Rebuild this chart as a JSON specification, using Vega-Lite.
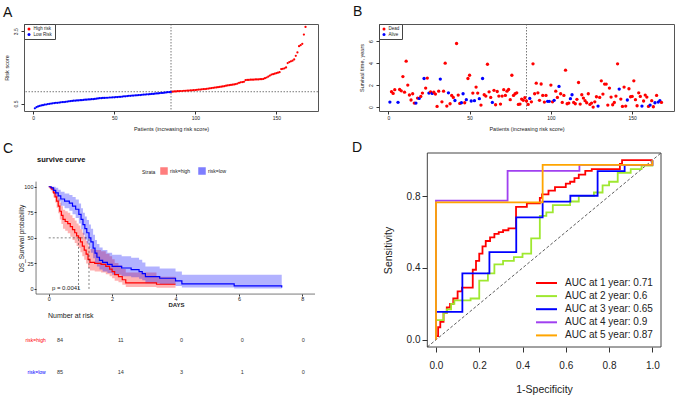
{
  "$schema": "https://vega.github.io/schema/vega-lite/v6.json",
  "background": "white",
  "padding": {"left": 2, "top": 4, "right": 0, "bottom": 0},
  "config": {
    "font": "Liberation Sans",
    "view": {"stroke": "#555", "strokeWidth": 1},
    "axis": {"grid": false, "labelColor": "#222", "titleColor": "#222", "tickColor": "#333", "domainColor": "#333", "titleFontWeight": "normal", "labelOverlap": false},
    "title": {"fontWeight": "normal", "color": "#111", "anchor": "start", "frame": "group", "baseline": "alphabetic", "fontSize": 14},
    "legend": {"labelColor": "#222", "titleColor": "#222"}
  },
  "datasets": {
    "patients": [
      {"i":1,"r":0.30,"t":0.45,"s":"Alive","g":"Low Risk"},{"i":2,"r":0.35,"t":1.40,"s":"Dead","g":"Low Risk"},{"i":3,"r":0.38,"t":1.24,"s":"Dead","g":"Low Risk"},{"i":4,"r":0.40,"t":1.58,"s":"Dead","g":"Low Risk"},{"i":5,"r":0.42,"t":7.30,"s":"Dead","g":"Low Risk"},
      {"i":6,"r":0.43,"t":0.43,"s":"Alive","g":"Low Risk"},{"i":7,"r":0.45,"t":1.60,"s":"Dead","g":"Low Risk"},{"i":8,"r":0.46,"t":1.48,"s":"Dead","g":"Low Risk"},{"i":9,"r":0.48,"t":2.78,"s":"Dead","g":"Low Risk"},{"i":10,"r":0.49,"t":1.36,"s":"Dead","g":"Low Risk"},
      {"i":11,"r":0.50,"t":4.18,"s":"Dead","g":"Low Risk"},{"i":12,"r":0.51,"t":2.00,"s":"Dead","g":"Low Risk"},{"i":13,"r":0.52,"t":1.10,"s":"Dead","g":"Low Risk"},{"i":14,"r":0.53,"t":0.64,"s":"Dead","g":"Low Risk"},{"i":15,"r":0.53,"t":1.21,"s":"Dead","g":"Low Risk"},
      {"i":16,"r":0.54,"t":0.36,"s":"Dead","g":"Low Risk"},{"i":17,"r":0.55,"t":0.36,"s":"Alive","g":"Low Risk"},{"i":18,"r":0.56,"t":0.82,"s":"Dead","g":"Low Risk"},{"i":19,"r":0.56,"t":0.79,"s":"Alive","g":"Low Risk"},{"i":20,"r":0.57,"t":0.97,"s":"Dead","g":"Low Risk"},
      {"i":21,"r":0.58,"t":1.27,"s":"Dead","g":"Low Risk"},{"i":22,"r":0.59,"t":2.60,"s":"Alive","g":"Low Risk"},{"i":23,"r":0.60,"t":1.73,"s":"Dead","g":"Low Risk"},{"i":24,"r":0.61,"t":2.64,"s":"Dead","g":"Low Risk"},{"i":25,"r":0.62,"t":1.27,"s":"Alive","g":"Low Risk"},
      {"i":26,"r":0.62,"t":1.39,"s":"Dead","g":"Low Risk"},{"i":27,"r":0.63,"t":1.24,"s":"Alive","g":"Low Risk"},{"i":28,"r":0.63,"t":1.36,"s":"Dead","g":"Low Risk"},{"i":29,"r":0.64,"t":1.18,"s":"Dead","g":"Low Risk"},{"i":30,"r":0.64,"t":0.06,"s":"Dead","g":"Low Risk"},
      {"i":31,"r":0.65,"t":1.45,"s":"Dead","g":"Low Risk"},{"i":32,"r":0.66,"t":2.55,"s":"Alive","g":"Low Risk"},{"i":33,"r":0.66,"t":0.48,"s":"Dead","g":"Low Risk"},{"i":34,"r":0.67,"t":1.45,"s":"Dead","g":"Low Risk"},{"i":35,"r":0.67,"t":4.00,"s":"Dead","g":"Low Risk"},
      {"i":36,"r":0.68,"t":0.09,"s":"Dead","g":"Low Risk"},{"i":37,"r":0.68,"t":1.30,"s":"Alive","g":"Low Risk"},{"i":38,"r":0.69,"t":0.30,"s":"Dead","g":"Low Risk"},{"i":39,"r":0.70,"t":1.06,"s":"Dead","g":"Low Risk"},{"i":40,"r":0.71,"t":0.88,"s":"Dead","g":"Low Risk"},
      {"i":41,"r":0.72,"t":0.60,"s":"Alive","g":"Low Risk"},{"i":42,"r":0.72,"t":5.79,"s":"Dead","g":"Low Risk"},{"i":43,"r":0.73,"t":1.09,"s":"Dead","g":"Low Risk"},{"i":44,"r":0.73,"t":0.33,"s":"Dead","g":"Low Risk"},{"i":45,"r":0.74,"t":0.39,"s":"Alive","g":"Low Risk"},
      {"i":46,"r":0.74,"t":1.21,"s":"Alive","g":"Low Risk"},{"i":47,"r":0.75,"t":0.39,"s":"Dead","g":"Low Risk"},{"i":48,"r":0.75,"t":0.67,"s":"Alive","g":"Low Risk"},{"i":49,"r":0.76,"t":2.60,"s":"Dead","g":"Low Risk"},{"i":50,"r":0.76,"t":2.90,"s":"Dead","g":"Low Risk"},
      {"i":51,"r":0.77,"t":0.55,"s":"Alive","g":"Low Risk"},{"i":52,"r":0.77,"t":1.27,"s":"Dead","g":"Low Risk"},{"i":53,"r":0.78,"t":0.58,"s":"Alive","g":"Low Risk"},{"i":54,"r":0.78,"t":1.82,"s":"Dead","g":"Low Risk"},{"i":55,"r":0.79,"t":1.27,"s":"Dead","g":"Low Risk"},
      {"i":56,"r":0.80,"t":0.76,"s":"Alive","g":"Low Risk"},{"i":57,"r":0.80,"t":0.18,"s":"Dead","g":"Low Risk"},{"i":58,"r":0.81,"t":2.60,"s":"Alive","g":"Low Risk"},{"i":59,"r":0.82,"t":1.12,"s":"Dead","g":"Low Risk"},{"i":60,"r":0.82,"t":1.00,"s":"Dead","g":"Low Risk"},
      {"i":61,"r":0.83,"t":3.90,"s":"Dead","g":"Low Risk"},{"i":62,"r":0.83,"t":1.39,"s":"Dead","g":"Low Risk"},{"i":63,"r":0.84,"t":0.88,"s":"Dead","g":"Low Risk"},{"i":64,"r":0.84,"t":0.42,"s":"Alive","g":"Low Risk"},{"i":65,"r":0.85,"t":1.52,"s":"Dead","g":"Low Risk"},
      {"i":66,"r":0.85,"t":0.21,"s":"Dead","g":"Low Risk"},{"i":67,"r":0.86,"t":1.42,"s":"Dead","g":"Low Risk"},{"i":68,"r":0.87,"t":1.00,"s":"Dead","g":"Low Risk"},{"i":69,"r":0.87,"t":0.27,"s":"Dead","g":"Low Risk"},{"i":70,"r":0.88,"t":1.00,"s":"Dead","g":"Low Risk"},
      {"i":71,"r":0.88,"t":1.58,"s":"Dead","g":"Low Risk"},{"i":72,"r":0.89,"t":1.06,"s":"Dead","g":"Low Risk"},{"i":73,"r":0.90,"t":1.45,"s":"Dead","g":"Low Risk"},{"i":74,"r":0.90,"t":1.60,"s":"Dead","g":"Low Risk"},{"i":75,"r":0.91,"t":0.67,"s":"Dead","g":"Low Risk"},
      {"i":76,"r":0.92,"t":2.90,"s":"Dead","g":"Low Risk"},{"i":77,"r":0.92,"t":1.06,"s":"Dead","g":"Low Risk"},{"i":78,"r":0.93,"t":1.21,"s":"Dead","g":"Low Risk"},{"i":79,"r":0.94,"t":1.30,"s":"Dead","g":"Low Risk"},{"i":80,"r":0.94,"t":0.24,"s":"Dead","g":"Low Risk"},
      {"i":81,"r":0.95,"t":0.27,"s":"Dead","g":"Low Risk"},{"i":82,"r":0.96,"t":0.73,"s":"Dead","g":"Low Risk"},{"i":83,"r":0.97,"t":0.61,"s":"Dead","g":"Low Risk"},{"i":84,"r":0.97,"t":0.85,"s":"Dead","g":"Low Risk"},{"i":85,"r":0.98,"t":0.55,"s":"Dead","g":"Low Risk"},
      {"i":86,"r":0.99,"t":0.24,"s":"Dead","g":"High risk"},{"i":87,"r":1.00,"t":0.79,"s":"Alive","g":"High risk"},{"i":88,"r":1.00,"t":0.48,"s":"Dead","g":"High risk"},{"i":89,"r":1.01,"t":3.94,"s":"Dead","g":"High risk"},{"i":90,"r":1.01,"t":1.21,"s":"Dead","g":"High risk"},
      {"i":91,"r":1.02,"t":2.18,"s":"Dead","g":"High risk"},{"i":92,"r":1.02,"t":1.30,"s":"Dead","g":"High risk"},{"i":93,"r":1.03,"t":0.61,"s":"Dead","g":"High risk"},{"i":94,"r":1.03,"t":2.10,"s":"Dead","g":"High risk"},{"i":95,"r":1.04,"t":1.06,"s":"Dead","g":"High risk"},
      {"i":96,"r":1.04,"t":0.45,"s":"Dead","g":"High risk"},{"i":97,"r":1.05,"t":1.06,"s":"Dead","g":"High risk"},{"i":98,"r":1.05,"t":0.52,"s":"Alive","g":"High risk"},{"i":99,"r":1.06,"t":0.52,"s":"Alive","g":"High risk"},{"i":100,"r":1.06,"t":2.00,"s":"Dead","g":"High risk"},
      {"i":101,"r":1.07,"t":0.48,"s":"Dead","g":"High risk"},{"i":102,"r":1.08,"t":0.61,"s":"Alive","g":"High risk"},{"i":103,"r":1.08,"t":1.45,"s":"Dead","g":"High risk"},{"i":104,"r":1.09,"t":0.88,"s":"Dead","g":"High risk"},{"i":105,"r":1.10,"t":1.88,"s":"Alive","g":"High risk"},
      {"i":106,"r":1.10,"t":1.21,"s":"Dead","g":"High risk"},{"i":107,"r":1.11,"t":0.42,"s":"Dead","g":"High risk"},{"i":108,"r":1.12,"t":1.06,"s":"Dead","g":"High risk"},{"i":109,"r":1.13,"t":3.36,"s":"Dead","g":"High risk"},{"i":110,"r":1.14,"t":0.30,"s":"Dead","g":"High risk"},
      {"i":111,"r":1.15,"t":0.36,"s":"Dead","g":"High risk"},{"i":112,"r":1.16,"t":0.76,"s":"Alive","g":"High risk"},{"i":113,"r":1.17,"t":1.12,"s":"Alive","g":"High risk"},{"i":114,"r":1.18,"t":0.42,"s":"Dead","g":"High risk"},{"i":115,"r":1.19,"t":0.30,"s":"Dead","g":"High risk"},
      {"i":116,"r":1.20,"t":0.70,"s":"Dead","g":"High risk"},{"i":117,"r":1.21,"t":2.24,"s":"Dead","g":"High risk"},{"i":118,"r":1.22,"t":0.27,"s":"Dead","g":"High risk"},{"i":119,"r":1.24,"t":1.12,"s":"Dead","g":"High risk"},{"i":120,"r":1.25,"t":0.82,"s":"Dead","g":"High risk"},
      {"i":121,"r":1.26,"t":0.58,"s":"Dead","g":"High risk"},{"i":122,"r":1.27,"t":0.39,"s":"Dead","g":"High risk"},{"i":123,"r":1.28,"t":1.21,"s":"Dead","g":"High risk"},{"i":124,"r":1.29,"t":0.24,"s":"Dead","g":"High risk"},{"i":125,"r":1.31,"t":0.36,"s":"Dead","g":"High risk"},
      {"i":126,"r":1.33,"t":0.00,"s":"Dead","g":"High risk"},{"i":127,"r":1.36,"t":0.48,"s":"Dead","g":"High risk"},{"i":128,"r":1.38,"t":0.94,"s":"Dead","g":"High risk"},{"i":129,"r":1.39,"t":0.09,"s":"Alive","g":"High risk"},{"i":130,"r":1.40,"t":0.88,"s":"Dead","g":"High risk"},
      {"i":131,"r":1.47,"t":2.39,"s":"Dead","g":"High risk"},{"i":132,"r":1.48,"t":1.18,"s":"Dead","g":"High risk"},{"i":133,"r":1.48,"t":2.09,"s":"Dead","g":"High risk"},{"i":134,"r":1.49,"t":2.09,"s":"Dead","g":"High risk"},{"i":135,"r":1.49,"t":0.18,"s":"Dead","g":"High risk"},
      {"i":136,"r":1.49,"t":1.73,"s":"Dead","g":"High risk"},{"i":137,"r":1.50,"t":0.91,"s":"Dead","g":"High risk"},{"i":138,"r":1.50,"t":0.21,"s":"Dead","g":"High risk"},{"i":139,"r":1.50,"t":0.42,"s":"Dead","g":"High risk"},{"i":140,"r":1.51,"t":1.00,"s":"Dead","g":"High risk"},
      {"i":141,"r":1.51,"t":3.94,"s":"Dead","g":"High risk"},{"i":142,"r":1.52,"t":1.64,"s":"Alive","g":"High risk"},{"i":143,"r":1.55,"t":0.73,"s":"Dead","g":"High risk"},{"i":144,"r":1.58,"t":0.06,"s":"Dead","g":"High risk"},{"i":145,"r":1.62,"t":1.82,"s":"Dead","g":"High risk"},
      {"i":146,"r":1.66,"t":0.09,"s":"Dead","g":"High risk"},{"i":147,"r":1.70,"t":0.64,"s":"Alive","g":"High risk"},{"i":148,"r":1.72,"t":1.67,"s":"Dead","g":"High risk"},{"i":149,"r":1.74,"t":0.94,"s":"Dead","g":"High risk"},{"i":150,"r":1.76,"t":0.97,"s":"Dead","g":"High risk"},
      {"i":151,"r":1.78,"t":2.39,"s":"Dead","g":"High risk"},{"i":152,"r":1.80,"t":0.67,"s":"Dead","g":"High risk"},{"i":153,"r":1.93,"t":0.12,"s":"Dead","g":"High risk"},{"i":154,"r":1.94,"t":1.30,"s":"Dead","g":"High risk"},{"i":155,"r":1.96,"t":0.97,"s":"Dead","g":"High risk"},
      {"i":156,"r":2.00,"t":0.09,"s":"Alive","g":"High risk"},{"i":157,"r":2.18,"t":0.55,"s":"Dead","g":"High risk"},{"i":158,"r":2.22,"t":1.09,"s":"Dead","g":"High risk"},{"i":159,"r":2.25,"t":0.91,"s":"Dead","g":"High risk"},{"i":160,"r":2.28,"t":0.06,"s":"Dead","g":"High risk"},
      {"i":161,"r":2.33,"t":0.18,"s":"Alive","g":"High risk"},{"i":162,"r":2.48,"t":0.58,"s":"Dead","g":"High risk"},{"i":163,"r":2.62,"t":0.03,"s":"Dead","g":"High risk"},{"i":164,"r":2.88,"t":0.39,"s":"Alive","g":"High risk"},{"i":165,"r":2.92,"t":1.06,"s":"Dead","g":"High risk"},
      {"i":166,"r":2.98,"t":0.45,"s":"Alive","g":"High risk"},{"i":167,"r":3.36,"t":0.58,"s":"Alive","g":"High risk"},{"i":168,"r":3.68,"t":0.42,"s":"Dead","g":"High risk"}
    ],
    "km": [
      {"strata":"risk=high","t":0,"s":100,"lo":100,"hi":100},{"strata":"risk=high","t":0.05,"s":98.8,"lo":96.5,"hi":100},{"strata":"risk=high","t":0.1,"s":97.6,"lo":94,"hi":100},
      {"strata":"risk=high","t":0.15,"s":94,"lo":89.5,"hi":98.5},{"strata":"risk=high","t":0.2,"s":90,"lo":84.5,"hi":96},{"strata":"risk=high","t":0.25,"s":86,"lo":79.5,"hi":92.5},
      {"strata":"risk=high","t":0.3,"s":81,"lo":74,"hi":88.5},{"strata":"risk=high","t":0.35,"s":76,"lo":68,"hi":84.5},{"strata":"risk=high","t":0.4,"s":72,"lo":63.5,"hi":81},
      {"strata":"risk=high","t":0.45,"s":68,"lo":59,"hi":77.5},{"strata":"risk=high","t":0.52,"s":66,"lo":57,"hi":76},{"strata":"risk=high","t":0.6,"s":64,"lo":54.5,"hi":74.5},
      {"strata":"risk=high","t":0.68,"s":61,"lo":51,"hi":72},{"strata":"risk=high","t":0.75,"s":58,"lo":48,"hi":69.5},{"strata":"risk=high","t":0.82,"s":55,"lo":45,"hi":67},
      {"strata":"risk=high","t":0.88,"s":52,"lo":42,"hi":64},{"strata":"risk=high","t":0.94,"s":50,"lo":40,"hi":62},{"strata":"risk=high","t":1.0,"s":46,"lo":36,"hi":58.5},
      {"strata":"risk=high","t":1.06,"s":42,"lo":32,"hi":55},{"strata":"risk=high","t":1.12,"s":38,"lo":28.5,"hi":51},{"strata":"risk=high","t":1.18,"s":34,"lo":25,"hi":47},
      {"strata":"risk=high","t":1.24,"s":29,"lo":20.5,"hi":42.5},{"strata":"risk=high","t":1.3,"s":26,"lo":18,"hi":39},{"strata":"risk=high","t":1.45,"s":25,"lo":17,"hi":38},
      {"strata":"risk=high","t":1.65,"s":24,"lo":16,"hi":37},{"strata":"risk=high","t":1.8,"s":22,"lo":14.5,"hi":34.5},{"strata":"risk=high","t":1.92,"s":19.5,"lo":12.5,"hi":32},
      {"strata":"risk=high","t":2.0,"s":17,"lo":10.5,"hi":29},{"strata":"risk=high","t":2.08,"s":14,"lo":8,"hi":25.5},{"strata":"risk=high","t":2.2,"s":12,"lo":6.5,"hi":23},
      {"strata":"risk=high","t":2.32,"s":9,"lo":4,"hi":19.5},{"strata":"risk=high","t":2.43,"s":6,"lo":2,"hi":16},{"strata":"risk=high","t":3.4,"s":4.6,"lo":1.2,"hi":12},
      {"strata":"risk=high","t":4.0,"s":4.6,"lo":1.2,"hi":12},
      {"strata":"risk=low","t":0,"s":100,"lo":100,"hi":100},{"strata":"risk=low","t":0.08,"s":98.8,"lo":96.5,"hi":100},{"strata":"risk=low","t":0.15,"s":96.5,"lo":93,"hi":100},
      {"strata":"risk=low","t":0.22,"s":94,"lo":89.5,"hi":99},{"strata":"risk=low","t":0.3,"s":91,"lo":85.5,"hi":97},{"strata":"risk=low","t":0.38,"s":88,"lo":81.5,"hi":95},
      {"strata":"risk=low","t":0.5,"s":86,"lo":79,"hi":93.5},{"strata":"risk=low","t":0.65,"s":84,"lo":76.5,"hi":92},{"strata":"risk=low","t":0.75,"s":81,"lo":73,"hi":90},
      {"strata":"risk=low","t":0.85,"s":78,"lo":69.5,"hi":87.5},{"strata":"risk=low","t":0.95,"s":73,"lo":64,"hi":83.5},{"strata":"risk=low","t":1.02,"s":68,"lo":58.5,"hi":79},
      {"strata":"risk=low","t":1.08,"s":63,"lo":53,"hi":74.5},{"strata":"risk=low","t":1.14,"s":59,"lo":48.5,"hi":71},{"strata":"risk=low","t":1.2,"s":55,"lo":44.5,"hi":67.5},
      {"strata":"risk=low","t":1.27,"s":50,"lo":39.5,"hi":63},{"strata":"risk=low","t":1.33,"s":46,"lo":35.5,"hi":59},{"strata":"risk=low","t":1.4,"s":40,"lo":30,"hi":53},
      {"strata":"risk=low","t":1.46,"s":35,"lo":25.5,"hi":48},{"strata":"risk=low","t":1.52,"s":31,"lo":22,"hi":44},{"strata":"risk=low","t":1.6,"s":28,"lo":19,"hi":40.5},
      {"strata":"risk=low","t":1.7,"s":26,"lo":17,"hi":38},{"strata":"risk=low","t":1.85,"s":24,"lo":15.5,"hi":35.5},{"strata":"risk=low","t":2.0,"s":22,"lo":14,"hi":33.5},
      {"strata":"risk=low","t":2.3,"s":20.5,"lo":12.5,"hi":32},{"strata":"risk=low","t":2.6,"s":19,"lo":11.5,"hi":30.5},{"strata":"risk=low","t":2.85,"s":17,"lo":10,"hi":28.5},
      {"strata":"risk=low","t":2.95,"s":15,"lo":8.5,"hi":26},{"strata":"risk=low","t":3.05,"s":12,"lo":5.5,"hi":22},{"strata":"risk=low","t":3.5,"s":10.5,"lo":4.5,"hi":20},
      {"strata":"risk=low","t":4.0,"s":8,"lo":3,"hi":17},{"strata":"risk=low","t":4.2,"s":5,"lo":1.5,"hi":14},{"strata":"risk=low","t":5.85,"s":3,"lo":0.5,"hi":14},
      {"strata":"risk=low","t":7.35,"s":1.5,"lo":0,"hi":14}
    ],
    "risk": [
      {"strata":"risk=high","row":1,"t":0,"n":84},{"strata":"risk=high","row":1,"t":2,"n":11},{"strata":"risk=high","row":1,"t":4,"n":0},{"strata":"risk=high","row":1,"t":6,"n":0},{"strata":"risk=high","row":1,"t":8,"n":0},
      {"strata":"risk=low","row":2,"t":0,"n":85},{"strata":"risk=low","row":2,"t":2,"n":14},{"strata":"risk=low","row":2,"t":4,"n":3},{"strata":"risk=low","row":2,"t":6,"n":1},{"strata":"risk=low","row":2,"t":8,"n":0}
    ],
    "roc": [
      {"auc":"AUC at 1 year: 0.71","k":0,"x":0,"y":0},{"auc":"AUC at 1 year: 0.71","k":1,"x":0,"y":0.02},{"auc":"AUC at 1 year: 0.71","k":2,"x":0.01,"y":0.02},{"auc":"AUC at 1 year: 0.71","k":3,"x":0.01,"y":0.07},
      {"auc":"AUC at 1 year: 0.71","k":4,"x":0.02,"y":0.07},{"auc":"AUC at 1 year: 0.71","k":5,"x":0.02,"y":0.1},{"auc":"AUC at 1 year: 0.71","k":6,"x":0.035,"y":0.1},{"auc":"AUC at 1 year: 0.71","k":7,"x":0.035,"y":0.15},
      {"auc":"AUC at 1 year: 0.71","k":8,"x":0.05,"y":0.15},{"auc":"AUC at 1 year: 0.71","k":9,"x":0.05,"y":0.18},{"auc":"AUC at 1 year: 0.71","k":10,"x":0.065,"y":0.18},{"auc":"AUC at 1 year: 0.71","k":11,"x":0.065,"y":0.2},
      {"auc":"AUC at 1 year: 0.71","k":12,"x":0.08,"y":0.2},{"auc":"AUC at 1 year: 0.71","k":13,"x":0.08,"y":0.23},{"auc":"AUC at 1 year: 0.71","k":14,"x":0.1,"y":0.23},{"auc":"AUC at 1 year: 0.71","k":15,"x":0.1,"y":0.27},
      {"auc":"AUC at 1 year: 0.71","k":16,"x":0.12,"y":0.27},{"auc":"AUC at 1 year: 0.71","k":17,"x":0.12,"y":0.29},{"auc":"AUC at 1 year: 0.71","k":18,"x":0.17,"y":0.29},{"auc":"AUC at 1 year: 0.71","k":19,"x":0.17,"y":0.39},
      {"auc":"AUC at 1 year: 0.71","k":20,"x":0.185,"y":0.39},{"auc":"AUC at 1 year: 0.71","k":21,"x":0.185,"y":0.44},{"auc":"AUC at 1 year: 0.71","k":22,"x":0.2,"y":0.44},{"auc":"AUC at 1 year: 0.71","k":23,"x":0.2,"y":0.48},
      {"auc":"AUC at 1 year: 0.71","k":24,"x":0.215,"y":0.48},{"auc":"AUC at 1 year: 0.71","k":25,"x":0.215,"y":0.52},{"auc":"AUC at 1 year: 0.71","k":26,"x":0.23,"y":0.52},{"auc":"AUC at 1 year: 0.71","k":27,"x":0.23,"y":0.55},
      {"auc":"AUC at 1 year: 0.71","k":28,"x":0.25,"y":0.55},{"auc":"AUC at 1 year: 0.71","k":29,"x":0.25,"y":0.57},{"auc":"AUC at 1 year: 0.71","k":30,"x":0.27,"y":0.57},{"auc":"AUC at 1 year: 0.71","k":31,"x":0.27,"y":0.59},
      {"auc":"AUC at 1 year: 0.71","k":32,"x":0.29,"y":0.59},{"auc":"AUC at 1 year: 0.71","k":33,"x":0.29,"y":0.6},{"auc":"AUC at 1 year: 0.71","k":34,"x":0.31,"y":0.6},{"auc":"AUC at 1 year: 0.71","k":35,"x":0.31,"y":0.61},
      {"auc":"AUC at 1 year: 0.71","k":36,"x":0.335,"y":0.61},{"auc":"AUC at 1 year: 0.71","k":37,"x":0.335,"y":0.62},{"auc":"AUC at 1 year: 0.71","k":38,"x":0.37,"y":0.62},{"auc":"AUC at 1 year: 0.71","k":39,"x":0.37,"y":0.74},
      {"auc":"AUC at 1 year: 0.71","k":40,"x":0.42,"y":0.74},{"auc":"AUC at 1 year: 0.71","k":41,"x":0.42,"y":0.76},{"auc":"AUC at 1 year: 0.71","k":42,"x":0.48,"y":0.76},{"auc":"AUC at 1 year: 0.71","k":43,"x":0.48,"y":0.79},
      {"auc":"AUC at 1 year: 0.71","k":44,"x":0.49,"y":0.79},{"auc":"AUC at 1 year: 0.71","k":45,"x":0.49,"y":0.81},{"auc":"AUC at 1 year: 0.71","k":46,"x":0.52,"y":0.81},{"auc":"AUC at 1 year: 0.71","k":47,"x":0.52,"y":0.83},
      {"auc":"AUC at 1 year: 0.71","k":48,"x":0.55,"y":0.83},{"auc":"AUC at 1 year: 0.71","k":49,"x":0.55,"y":0.85},{"auc":"AUC at 1 year: 0.71","k":50,"x":0.6,"y":0.85},{"auc":"AUC at 1 year: 0.71","k":51,"x":0.6,"y":0.87},
      {"auc":"AUC at 1 year: 0.71","k":52,"x":0.62,"y":0.87},{"auc":"AUC at 1 year: 0.71","k":53,"x":0.62,"y":0.88},{"auc":"AUC at 1 year: 0.71","k":54,"x":0.64,"y":0.88},{"auc":"AUC at 1 year: 0.71","k":55,"x":0.64,"y":0.9},
      {"auc":"AUC at 1 year: 0.71","k":56,"x":0.66,"y":0.9},{"auc":"AUC at 1 year: 0.71","k":57,"x":0.66,"y":0.92},{"auc":"AUC at 1 year: 0.71","k":58,"x":0.69,"y":0.92},{"auc":"AUC at 1 year: 0.71","k":59,"x":0.69,"y":0.94},
      {"auc":"AUC at 1 year: 0.71","k":60,"x":0.72,"y":0.94},{"auc":"AUC at 1 year: 0.71","k":61,"x":0.72,"y":0.95},{"auc":"AUC at 1 year: 0.71","k":62,"x":0.85,"y":0.95},{"auc":"AUC at 1 year: 0.71","k":63,"x":0.85,"y":0.98},
      {"auc":"AUC at 1 year: 0.71","k":64,"x":0.86,"y":0.98},{"auc":"AUC at 1 year: 0.71","k":65,"x":0.86,"y":1.0},{"auc":"AUC at 1 year: 0.71","k":66,"x":1.0,"y":1.0},
      {"auc":"AUC at 2 year: 0.6","k":0,"x":0,"y":0},{"auc":"AUC at 2 year: 0.6","k":1,"x":0,"y":0.11},{"auc":"AUC at 2 year: 0.6","k":2,"x":0.035,"y":0.11},{"auc":"AUC at 2 year: 0.6","k":3,"x":0.035,"y":0.15},
      {"auc":"AUC at 2 year: 0.6","k":4,"x":0.05,"y":0.15},{"auc":"AUC at 2 year: 0.6","k":5,"x":0.05,"y":0.17},{"auc":"AUC at 2 year: 0.6","k":6,"x":0.07,"y":0.17},{"auc":"AUC at 2 year: 0.6","k":7,"x":0.07,"y":0.2},
      {"auc":"AUC at 2 year: 0.6","k":8,"x":0.085,"y":0.2},{"auc":"AUC at 2 year: 0.6","k":9,"x":0.085,"y":0.22},{"auc":"AUC at 2 year: 0.6","k":10,"x":0.16,"y":0.22},{"auc":"AUC at 2 year: 0.6","k":11,"x":0.16,"y":0.23},
      {"auc":"AUC at 2 year: 0.6","k":12,"x":0.2,"y":0.23},{"auc":"AUC at 2 year: 0.6","k":13,"x":0.2,"y":0.33},{"auc":"AUC at 2 year: 0.6","k":14,"x":0.24,"y":0.33},{"auc":"AUC at 2 year: 0.6","k":15,"x":0.24,"y":0.37},
      {"auc":"AUC at 2 year: 0.6","k":16,"x":0.27,"y":0.37},{"auc":"AUC at 2 year: 0.6","k":17,"x":0.27,"y":0.42},{"auc":"AUC at 2 year: 0.6","k":18,"x":0.31,"y":0.42},{"auc":"AUC at 2 year: 0.6","k":19,"x":0.31,"y":0.44},
      {"auc":"AUC at 2 year: 0.6","k":20,"x":0.36,"y":0.44},{"auc":"AUC at 2 year: 0.6","k":21,"x":0.36,"y":0.46},{"auc":"AUC at 2 year: 0.6","k":22,"x":0.4,"y":0.46},{"auc":"AUC at 2 year: 0.6","k":23,"x":0.4,"y":0.48},
      {"auc":"AUC at 2 year: 0.6","k":24,"x":0.44,"y":0.48},{"auc":"AUC at 2 year: 0.6","k":25,"x":0.44,"y":0.565},{"auc":"AUC at 2 year: 0.6","k":26,"x":0.48,"y":0.565},{"auc":"AUC at 2 year: 0.6","k":27,"x":0.48,"y":0.69},
      {"auc":"AUC at 2 year: 0.6","k":28,"x":0.51,"y":0.69},{"auc":"AUC at 2 year: 0.6","k":29,"x":0.51,"y":0.71},{"auc":"AUC at 2 year: 0.6","k":30,"x":0.54,"y":0.71},{"auc":"AUC at 2 year: 0.6","k":31,"x":0.54,"y":0.75},
      {"auc":"AUC at 2 year: 0.6","k":32,"x":0.62,"y":0.75},{"auc":"AUC at 2 year: 0.6","k":33,"x":0.62,"y":0.77},{"auc":"AUC at 2 year: 0.6","k":34,"x":0.66,"y":0.77},{"auc":"AUC at 2 year: 0.6","k":35,"x":0.66,"y":0.8},
      {"auc":"AUC at 2 year: 0.6","k":36,"x":0.73,"y":0.8},{"auc":"AUC at 2 year: 0.6","k":37,"x":0.73,"y":0.82},{"auc":"AUC at 2 year: 0.6","k":38,"x":0.77,"y":0.82},{"auc":"AUC at 2 year: 0.6","k":39,"x":0.77,"y":0.86},
      {"auc":"AUC at 2 year: 0.6","k":40,"x":0.8,"y":0.86},{"auc":"AUC at 2 year: 0.6","k":41,"x":0.8,"y":0.88},{"auc":"AUC at 2 year: 0.6","k":42,"x":0.84,"y":0.88},{"auc":"AUC at 2 year: 0.6","k":43,"x":0.84,"y":0.93},
      {"auc":"AUC at 2 year: 0.6","k":44,"x":0.9,"y":0.93},{"auc":"AUC at 2 year: 0.6","k":45,"x":0.9,"y":0.95},{"auc":"AUC at 2 year: 0.6","k":46,"x":0.95,"y":0.95},{"auc":"AUC at 2 year: 0.6","k":47,"x":0.95,"y":0.97},
      {"auc":"AUC at 2 year: 0.6","k":48,"x":1.0,"y":0.97},{"auc":"AUC at 2 year: 0.6","k":49,"x":1.0,"y":1.0},
      {"auc":"AUC at 3 year: 0.65","k":0,"x":0,"y":0},{"auc":"AUC at 3 year: 0.65","k":1,"x":0,"y":0.155},{"auc":"AUC at 3 year: 0.65","k":2,"x":0.122,"y":0.155},{"auc":"AUC at 3 year: 0.65","k":3,"x":0.122,"y":0.37},
      {"auc":"AUC at 3 year: 0.65","k":4,"x":0.247,"y":0.37},{"auc":"AUC at 3 year: 0.65","k":5,"x":0.247,"y":0.488},{"auc":"AUC at 3 year: 0.65","k":6,"x":0.371,"y":0.488},{"auc":"AUC at 3 year: 0.65","k":7,"x":0.371,"y":0.682},
      {"auc":"AUC at 3 year: 0.65","k":8,"x":0.493,"y":0.682},{"auc":"AUC at 3 year: 0.65","k":9,"x":0.493,"y":0.769},{"auc":"AUC at 3 year: 0.65","k":10,"x":0.621,"y":0.769},{"auc":"AUC at 3 year: 0.65","k":11,"x":0.621,"y":0.802},
      {"auc":"AUC at 3 year: 0.65","k":12,"x":0.747,"y":0.802},{"auc":"AUC at 3 year: 0.65","k":13,"x":0.747,"y":0.939},{"auc":"AUC at 3 year: 0.65","k":14,"x":0.872,"y":0.939},{"auc":"AUC at 3 year: 0.65","k":15,"x":0.872,"y":0.974},
      {"auc":"AUC at 3 year: 0.65","k":16,"x":1.0,"y":0.974},{"auc":"AUC at 3 year: 0.65","k":17,"x":1.0,"y":1.0},
      {"auc":"AUC at 4 year: 0.9","k":0,"x":0,"y":0},{"auc":"AUC at 4 year: 0.9","k":1,"x":0,"y":0.775},{"auc":"AUC at 4 year: 0.9","k":2,"x":0.331,"y":0.775},{"auc":"AUC at 4 year: 0.9","k":3,"x":0.331,"y":0.941},
      {"auc":"AUC at 4 year: 0.9","k":4,"x":0.663,"y":0.941},{"auc":"AUC at 4 year: 0.9","k":5,"x":0.663,"y":0.974},{"auc":"AUC at 4 year: 0.9","k":6,"x":1.0,"y":0.974},{"auc":"AUC at 4 year: 0.9","k":7,"x":1.0,"y":1.0},
      {"auc":"AUC at 5 year: 0.87","k":0,"x":0,"y":0},{"auc":"AUC at 5 year: 0.87","k":1,"x":0,"y":0.765},{"auc":"AUC at 5 year: 0.87","k":2,"x":0.493,"y":0.765},{"auc":"AUC at 5 year: 0.87","k":3,"x":0.493,"y":0.974},
      {"auc":"AUC at 5 year: 0.87","k":4,"x":1.0,"y":0.974},{"auc":"AUC at 5 year: 0.87","k":5,"x":1.0,"y":1.0}
    ]
  },
  "concat": [
    {
      "width": 294,
      "height": 87,
      "title": {"text": "A", "dx": -21, "offset": 4},
      "layer": [
        {
          "data": {"values": [{}]},
          "mark": {"type": "rule", "strokeDash": [1.5, 1.5], "color": "#555", "strokeWidth": 0.8},
          "encoding": {"y": {"datum": 0.99, "type": "quantitative"}}
        },
        {
          "data": {"values": [{}]},
          "mark": {"type": "rule", "strokeDash": [1.5, 1.5], "color": "#555", "strokeWidth": 0.8},
          "encoding": {"x": {"datum": 85, "type": "quantitative"}}
        },
        {
          "data": {"name": "patients"},
          "mark": {"type": "circle", "size": 5, "opacity": 1},
          "encoding": {
            "x": {"field": "i", "type": "quantitative", "scale": {"domain": [-5.7, 175.7], "nice": false, "zero": false},
              "axis": {"values": [0, 50, 100, 150], "domain": false, "tickSize": 3, "labelFontSize": 5, "labelPadding": 1.5, "title": "Patients (increasing risk score)", "titleFontSize": 5.5, "titlePadding": 6}},
            "y": {"field": "r", "type": "quantitative", "scale": {"domain": [0.19, 3.8], "nice": false, "zero": false},
              "axis": {"values": [0.5, 1, 1.5, 2, 2.5, 3, 3.5], "format": ".1f", "domain": false, "tickSize": 3, "labelFontSize": 5, "labelAngle": -90, "labelAlign": "center", "labelBaseline": "bottom", "labelPadding": 3, "labelOverlap": false, "labelBound": false, "labelFlush": false, "title": "Risk score", "titleFontSize": 5.5, "titlePadding": 4}},
            "color": {"field": "g", "type": "nominal", "scale": {"domain": ["High risk", "Low Risk"], "range": ["#FF0000", "#0000FF"]},
              "legend": {"orient": "top-left", "offset": 0, "title": null, "labelFontSize": 4.5, "symbolSize": 9, "symbolType": "circle", "strokeColor": "#444", "fillColor": "white", "padding": 2.5, "rowPadding": 0.5, "labelOffset": 2}}
          }
        }
      ]
    },
    {
      "width": 295,
      "height": 87,
      "title": {"text": "B", "dx": -26, "offset": 5},
      "layer": [
        {
          "data": {"values": [{}]},
          "mark": {"type": "rule", "strokeDash": [1.5, 1.5], "color": "#555", "strokeWidth": 0.8},
          "encoding": {"x": {"datum": 85, "type": "quantitative"}}
        },
        {
          "data": {"name": "patients"},
          "mark": {"type": "circle", "size": 11, "opacity": 1},
          "encoding": {
            "x": {"field": "i", "type": "quantitative", "scale": {"domain": [-5.7, 175.7], "nice": false, "zero": false},
              "axis": {"values": [0, 50, 100, 150], "domain": false, "tickSize": 3, "labelFontSize": 5, "labelPadding": 1.5, "title": "Patients (increasing risk score)", "titleFontSize": 5.5, "titlePadding": 6}},
            "y": {"field": "t", "type": "quantitative", "scale": {"domain": [-0.36, 7.57], "nice": false, "zero": false},
              "axis": {"values": [0, 2, 4, 6], "domain": false, "tickSize": 3, "labelFontSize": 5, "labelAngle": -90, "labelAlign": "center", "labelBaseline": "bottom", "labelPadding": 3, "labelOverlap": false, "labelBound": false, "labelFlush": false, "title": "Survival time, years", "titleFontSize": 5.5, "titlePadding": 4}},
            "color": {"field": "s", "type": "nominal", "scale": {"domain": ["Dead", "Alive"], "range": ["#FF0000", "#0000FF"]},
              "legend": {"orient": "top-left", "offset": 0, "title": null, "labelFontSize": 4.5, "symbolSize": 9, "symbolType": "circle", "strokeColor": "#444", "fillColor": "white", "padding": 2.5, "rowPadding": 0.5, "labelOffset": 2}}
          }
        }
      ]
    },
    {
      "width": 294,
      "height": 234,
      "view": {"stroke": null},
      "title": {"text": "C", "dx": -21, "offset": -3},
      "layer": [
        {
          "layer": [
            {
              "data": {"name": "km"},
              "mark": {"type": "area", "interpolate": "step-after", "opacity": 0.3},
              "encoding": {
                "x": {"field": "t", "type": "quantitative", "scale": {"domain": [-0.78, 8.494], "nice": false, "zero": false},
                  "axis": {"values": [0, 2, 4, 6, 8], "domain": false, "offset": -93, "tickSize": 2, "labelFontSize": 5.5, "labelPadding": 0.5, "title": "DAYS", "titleFontWeight": "bold", "titleFontSize": 6, "titleX": 152, "titleY": 7, "titleBaseline": "top"}},
                "y": {"field": "lo", "type": "quantitative", "stack": null, "scale": {"domain": [-95.9, 133], "nice": false, "zero": false},
                  "axis": {"values": [0, 25, 50, 75, 100], "domain": false, "offset": -12, "tickSize": 2, "labelFontSize": 5.5, "labelPadding": 1, "title": "OS_Survival probability", "titleFontSize": 6.5, "titleX": -14.5, "titleY": 85, "titleBaseline": "middle"}},
                "y2": {"field": "hi"},
                "color": {"field": "strata", "type": "nominal", "scale": {"domain": ["risk=high", "risk=low"], "range": ["#FF0000", "#0000FF"]},
                  "legend": {"orient": "none", "legendX": 118, "legendY": 14, "direction": "horizontal", "title": "Strata", "titleOrient": "left", "titleFontSize": 5, "titleFontWeight": "normal", "labelFontSize": 5, "symbolType": "square", "symbolSize": 36, "symbolOpacity": 0.5, "columnPadding": 5, "labelOffset": 2, "titlePadding": 4}}
              }
            },
            {
              "data": {"name": "km"},
              "mark": {"type": "line", "interpolate": "step-after", "strokeWidth": 1.2},
              "encoding": {
                "x": {"field": "t", "type": "quantitative"},
                "y": {"field": "s", "type": "quantitative"},
                "color": {"field": "strata", "type": "nominal"}
              }
            },
            {
              "data": {"values": [{"x": 0, "x2": 1.27, "y": 50, "y2": 50}, {"x": 0.94, "x2": 0.94, "y": 0, "y2": 50}, {"x": 1.27, "x2": 1.27, "y": 0, "y2": 50}]},
              "mark": {"type": "rule", "strokeDash": [2, 2], "color": "#333", "strokeWidth": 0.6},
              "encoding": {"x": {"field": "x", "type": "quantitative"}, "x2": {"field": "x2"}, "y": {"field": "y", "type": "quantitative"}, "y2": {"field": "y2"}}
            },
            {
              "data": {"values": [{"x": -0.4, "x2": 8.4, "y": -5, "y2": -5}, {"x": -0.4, "x2": -0.4, "y": -5, "y2": 105}]},
              "mark": {"type": "rule", "color": "#222", "strokeWidth": 0.6},
              "encoding": {"x": {"field": "x", "type": "quantitative"}, "x2": {"field": "x2"}, "y": {"field": "y", "type": "quantitative"}, "y2": {"field": "y2"}}
            },
            {
              "data": {"values": [{"label": "p = 0.0041", "x": 0.55, "y": 1}]},
              "mark": {"type": "text", "fontSize": 6, "color": "#222"},
              "encoding": {"x": {"field": "x", "type": "quantitative"}, "y": {"field": "y", "type": "quantitative"}, "text": {"field": "label"}}
            },
            {
              "data": {"values": [{"label": "survive curve", "x": -0.37, "y": 124.5}]},
              "mark": {"type": "text", "fontSize": 7.5, "fontWeight": "bold", "align": "left", "baseline": "alphabetic", "color": "#111"},
              "encoding": {"x": {"field": "x", "type": "quantitative"}, "y": {"field": "y", "type": "quantitative"}, "text": {"field": "label"}}
            }
          ]
        },
        {
          "layer": [
            {
              "data": {"name": "risk"},
              "mark": {"type": "text", "fontSize": 5.5, "color": "#333"},
              "encoding": {
                "x": {"field": "t", "type": "quantitative", "scale": {"domain": [-1.184, 8.487], "nice": false, "zero": false}, "axis": null},
                "y": {"field": "row", "type": "quantitative", "scale": {"domain": [-4.844, 2.469], "reverse": true, "nice": false, "zero": false}, "axis": null},
                "text": {"field": "n"}
              }
            },
            {
              "data": {"name": "risk"},
              "transform": [{"filter": "datum.t == 0"}],
              "mark": {"type": "text", "fontSize": 5, "align": "right"},
              "encoding": {
                "x": {"datum": -0.47, "type": "quantitative"},
                "y": {"field": "row", "type": "quantitative"},
                "text": {"field": "strata"},
                "color": {"condition": {"test": "datum.strata == 'risk=high'", "value": "#FF0000"}, "value": "#0000FF"}
              }
            },
            {
              "data": {"values": [{"label": "Number at risk", "x": -0.395, "y": 0.31}]},
              "mark": {"type": "text", "fontSize": 7, "align": "left", "baseline": "alphabetic", "color": "#222"},
              "encoding": {"x": {"field": "x", "type": "quantitative"}, "y": {"field": "y", "type": "quantitative"}, "text": {"field": "label"}}
            }
          ]
        }
      ],
      "resolve": {"scale": {"x": "independent", "y": "independent"}}
    },
    {
      "width": 282,
      "height": 194,
      "view": {"stroke": null},
      "title": {"text": "D", "dx": -27, "offset": -2},
      "layer": [
        {
          "data": {"values": [{}]},
          "mark": {"type": "rect", "filled": false, "stroke": "#444", "strokeWidth": 1},
          "encoding": {"x": {"datum": -0.04, "type": "quantitative"}, "x2": {"datum": 1.04}, "y": {"datum": -0.04, "type": "quantitative"}, "y2": {"datum": 1.04}}
        },
        {
          "data": {"values": [{}]},
          "mark": {"type": "rule", "strokeDash": [3, 2], "color": "#333", "strokeWidth": 0.8},
          "encoding": {"x": {"datum": -0.04, "type": "quantitative"}, "x2": {"datum": 1.04}, "y": {"datum": -0.04, "type": "quantitative"}, "y2": {"datum": 1.04}}
        },
        {
          "data": {"name": "roc"},
          "mark": {"type": "line", "strokeWidth": 1.8},
          "encoding": {
            "x": {"field": "x", "type": "quantitative", "scale": {"domain": [-0.2633, 1.04], "nice": false, "zero": false},
              "axis": {"values": [0, 0.2, 0.4, 0.6, 0.8, 1], "format": ".1f", "domain": false, "tickSize": 5, "labelFontSize": 10, "labelPadding": 8, "title": "1-Specificity", "titleFontSize": 10.5, "titlePadding": 14, "titleX": 165}},
            "y": {"field": "y", "type": "quantitative", "scale": {"domain": [-0.04, 1.04], "nice": false, "zero": false},
              "axis": {"values": [0, 0.2, 0.4, 0.6, 0.8, 1], "format": ".1f", "domain": false, "offset": -48, "tickSize": 5, "labelFontSize": 10, "labelPadding": 2, "title": "Sensitivity", "titleFontSize": 10.5, "titlePadding": 13}},
            "order": {"field": "k", "type": "quantitative"},
            "color": {"field": "auc", "type": "nominal",
              "scale": {"domain": ["AUC at 1 year: 0.71", "AUC at 2 year: 0.6", "AUC at 3 year: 0.65", "AUC at 4 year: 0.9", "AUC at 5 year: 0.87"], "range": ["#FF0000", "#9FE830", "#0000FF", "#A040F0", "#FFA500"]},
              "legend": {"orient": "none", "legendX": 161, "legendY": 123.5, "title": null, "symbolType": "M-2,0H2", "symbolStrokeWidth": 2, "symbolSize": 110, "symbolFillColor": "transparent", "labelFontSize": 10, "labelOffset": 12, "rowPadding": 1.1}}
          }
        }
      ]
    }
  ],
  "columns": 2,
  "spacing": {"row": 42, "column": 61},
  "align": {"row": "each", "column": "each"},
  "bounds": "flush",
  "resolve": {"scale": {"color": "independent"}, "legend": {"color": "independent"}}
}
